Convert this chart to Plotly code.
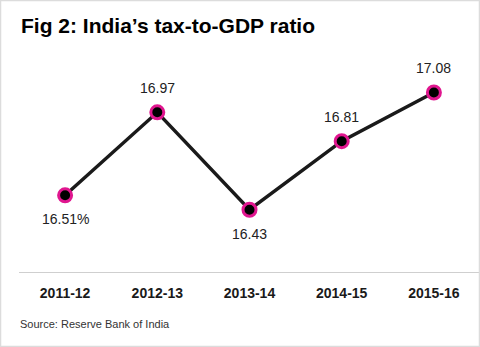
import plotly.graph_objects as go

years = ["2011-12", "2012-13", "2013-14", "2014-15", "2015-16"]
ratio = [16.51, 16.97, 16.43, 16.81, 17.08]
value_text = ["16.51%", "16.97", "16.43", "16.81", "17.08"]
label_side = [-1, 1, -1, 1, 1]  # -1: below the point, 1: above

W, H = 480, 347
plain = "Liberation Sans, Arial, sans-serif"

fig = go.Figure()
fig.add_trace(go.Scatter(
    x=years, y=ratio,
    mode="lines+markers",
    line=dict(color="#1a1a1a", width=3.5),
    marker=dict(size=13, color="#000000", line=dict(color="#e0168f", width=3)),
    cliponaxis=False,
    hoverinfo="skip",
))

annotations = [
    dict(
        x=yr, y=val, xref="x", yref="y", text=txt,
        showarrow=False, yshift=24 * side,
        xanchor="center", yanchor="middle",
        font=dict(family=plain, size=14, color="#222222"),
    )
    for yr, val, txt, side in zip(years, ratio, value_text, label_side)
]
annotations += [
    dict(
        text="<b>Fig 2: India\u2019s tax-to-GDP ratio</b>",
        xref="paper", yref="paper", x=19 / W, y=1 - 25 / H,
        xanchor="left", yanchor="middle", showarrow=False,
        font=dict(family=plain, size=21, color="#000000"),
    ),
    dict(
        text="Source: Reserve Bank of India",
        xref="paper", yref="paper", x=18 / W, y=1 - 324 / H,
        xanchor="left", yanchor="middle", showarrow=False,
        font=dict(family=plain, size=11, color="#333333"),
    ),
]

fig.update_layout(
    width=W, height=H,
    margin=dict(l=0, r=0, t=0, b=0),
    paper_bgcolor="white", plot_bgcolor="white",
    showlegend=False,
    xaxis=dict(
        type="category",
        domain=[19 / W, 1],
        range=[-0.5, 4.5],
        showgrid=False, zeroline=False,
        showline=True, linecolor="#cfcfcf", linewidth=1,
        ticks="", ticklabelstandoff=8,
        tickfont=dict(family=plain, size=14, color="#1a1a1a", weight="bold"),
    ),
    yaxis=dict(
        domain=[(H - 272) / H, (H - 60) / H],
        range=[16.085, 17.26],
        showgrid=False, zeroline=False, showline=False,
        showticklabels=False, ticks="",
    ),
    shapes=[dict(
        type="rect", xref="paper", yref="paper",
        x0=0, y0=0, x1=1, y1=1,
        line=dict(color="#dcdcdc", width=2.5),
    )],
    annotations=annotations,
)

fig.write_html("out.html")
